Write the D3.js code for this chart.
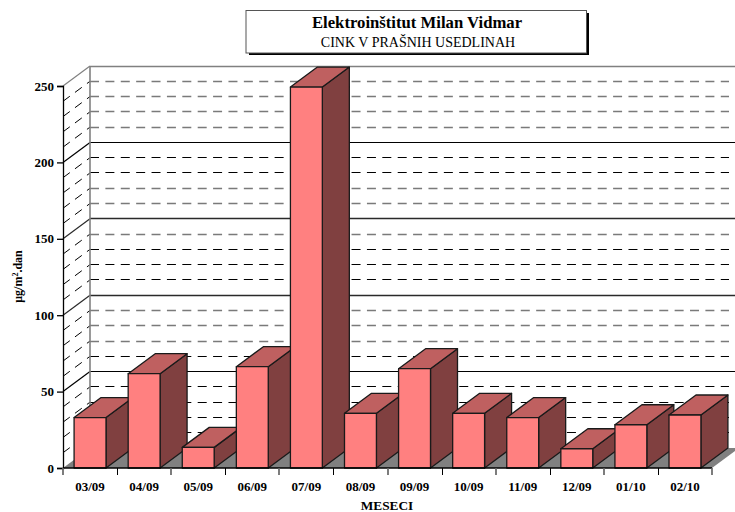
<!DOCTYPE html>
<html><head><meta charset="utf-8">
<script src="https://cdn.jsdelivr.net/npm/d3@7"></script>
<style>html,body{margin:0;background:#fff}svg{display:block}text{font-family:"Liberation Serif",serif;fill:#000}</style>
</head><body><div id="c"></div>
<script>
const months=["03/09","04/09","05/09","06/09","07/09","08/09","09/09","10/09","11/09","12/09","01/10","02/10"];
const values=[33,61.7,13.5,66.3,249.3,35.8,65,35.8,33,12.6,28.3,34.7];
const majorTicks=[0,50,100,150,200,250];
const minorTicks=[10,20,30,40,60,70,80,90,110,120,130,140,160,170,180,190,210,220,230,240];
const greyMinor=[70,80,90,140,160,170,210,220,230,240];
const titleLines=["Elektroinštitut Milan Vidmar","CINK V PRAŠNIH USEDLINAH"];
const xTitle="MESECI";

const W=735,H=512,dx=27,dy=-20,gridEnd=729;
const svg=d3.select("#c").append("svg").attr("width",W).attr("height",H);
const x=d3.scaleBand().domain(months).range([63,712]).paddingInner(0.41).paddingOuter(0.205);
const edge=d3.scaleLinear().domain([0,months.length]).range([63,712]);
const y=d3.scaleLinear().domain([0,250]).range([468,86]);
const line=d3.line();
const snap=v=>Math.floor(v)+0.5;

// floor
svg.append("path").attr("d",line([[63,y(0)],[63+dx,y(0)+dy],[712+dx,y(0)+dy],[712,y(0)]])+"Z").attr("fill","#808080");

// side wall and back wall grid
const grid=svg.append("g").attr("fill","none");
minorTicks.forEach(v=>{
  const by=snap(y(v)+dy),grey=greyMinor.includes(v);
  grid.append("path").attr("d",line([[63,y(v)],[63+dx,y(v)+dy]])).attr("stroke","#000").attr("stroke-dasharray","8.5,6.4");
  grid.append("path").attr("d",line([[63+dx,by],[gridEnd,by]])).attr("stroke",grey?"#7a7a7a":"#000")
    .attr("stroke-width",grey?1.7:1.1).attr("stroke-dasharray","9,6.385");
});
majorTicks.filter(v=>v>0).forEach(v=>{
  const by=snap(y(v)+dy);
  const c=v===250?"#808080":(v===100||v===150?"#2a2a2a":"#000");
  grid.append("path").attr("d",line([[63,y(v)],[63+dx,y(v)+dy]])).attr("stroke",c).attr("stroke-width",1.2);
  grid.append("path").attr("d",line([[63+dx,by],[W,by]])).attr("stroke",c).attr("stroke-width",v===250||v===100||v===150?1.6:1.2);
});
grid.append("path").attr("d",line([[63+dx,y(250)+dy],[63+dx,y(0)+dy]])).attr("stroke","#808080").attr("stroke-width",1.6);

// bars
const bars=svg.append("g").attr("stroke","#1a1a1a").attr("stroke-width",1.3).attr("stroke-linejoin","round");
months.forEach((m,i)=>{
  const l=x(m),r=l+x.bandwidth(),t=y(values[i]),b=y(0);
  const g=bars.append("g");
  g.append("path").attr("d",line([[r,b],[r+dx,b+dy],[r+dx,t+dy],[r,t]])+"Z").attr("fill","#804040");
  g.append("path").attr("d",line([[l,t],[l+dx,t+dy],[r+dx,t+dy],[r,t]])+"Z").attr("fill","#bf6060");
  g.append("rect").attr("x",l).attr("y",t).attr("width",r-l).attr("height",b-t).attr("fill","#ff8080");
});

// y axis
const ya=svg.append("g").attr("transform","translate(63,0)").call(d3.axisLeft(y).tickValues(majorTicks).tickSize(6).tickPadding(3));
ya.select(".domain").attr("stroke","#000").attr("stroke-width",1.3);
ya.selectAll("line").attr("stroke","#000").attr("stroke-width",1.3);
ya.selectAll("text").style("font-family","Liberation Serif").style("font-size","13px").style("font-weight","bold");

// x axis
const xa=svg.append("g");
xa.append("path").attr("d",line([[63,468],[712,468]])).attr("stroke","#000").attr("stroke-width",1.3);
d3.range(months.length+1).forEach(i=>{
  xa.append("path").attr("d",line([[Math.round(edge(i))+(i%2?0.5:0),468],[Math.round(edge(i))+(i%2?0.5:0),475]]))
    .attr("stroke",i%2?"#000":"#666").attr("stroke-width",i%2?1:1.7);
});
months.forEach(m=>{
  xa.append("text").attr("x",x(m)+x.bandwidth()/2).attr("y",491).attr("text-anchor","middle")
    .style("font-size","13px").style("font-weight","bold").text(m);
});
svg.append("text").attr("x",387).attr("y",509.5).attr("text-anchor","middle").style("font-size","13.3px").style("font-weight","bold").text(xTitle);

// y title
const yt=svg.append("text").attr("transform","translate(22,276.5) rotate(-90)").attr("text-anchor","middle").style("font-size","12px").style("font-weight","bold");
yt.append("tspan").text("μg/m");
yt.append("tspan").attr("dy",-4.5).style("font-size","8px").text("2");
yt.append("tspan").attr("dy",4.5).text(".dan");

// title box
svg.append("rect").attr("x",249).attr("y",13).attr("width",340).attr("height",42).attr("fill","#000");
svg.append("rect").attr("x",246).attr("y",10.5).attr("width",340.5).attr("height",42.5).attr("fill","#fff").attr("stroke","#555").attr("stroke-width",1);
svg.append("text").attr("x",417).attr("y",28).attr("text-anchor","middle").style("font-size","16.7px").style("font-weight","bold").text(titleLines[0]);
svg.append("text").attr("x",418).attr("y",47).attr("text-anchor","middle").style("font-size","14px").text(titleLines[1]);
</script></body></html>
